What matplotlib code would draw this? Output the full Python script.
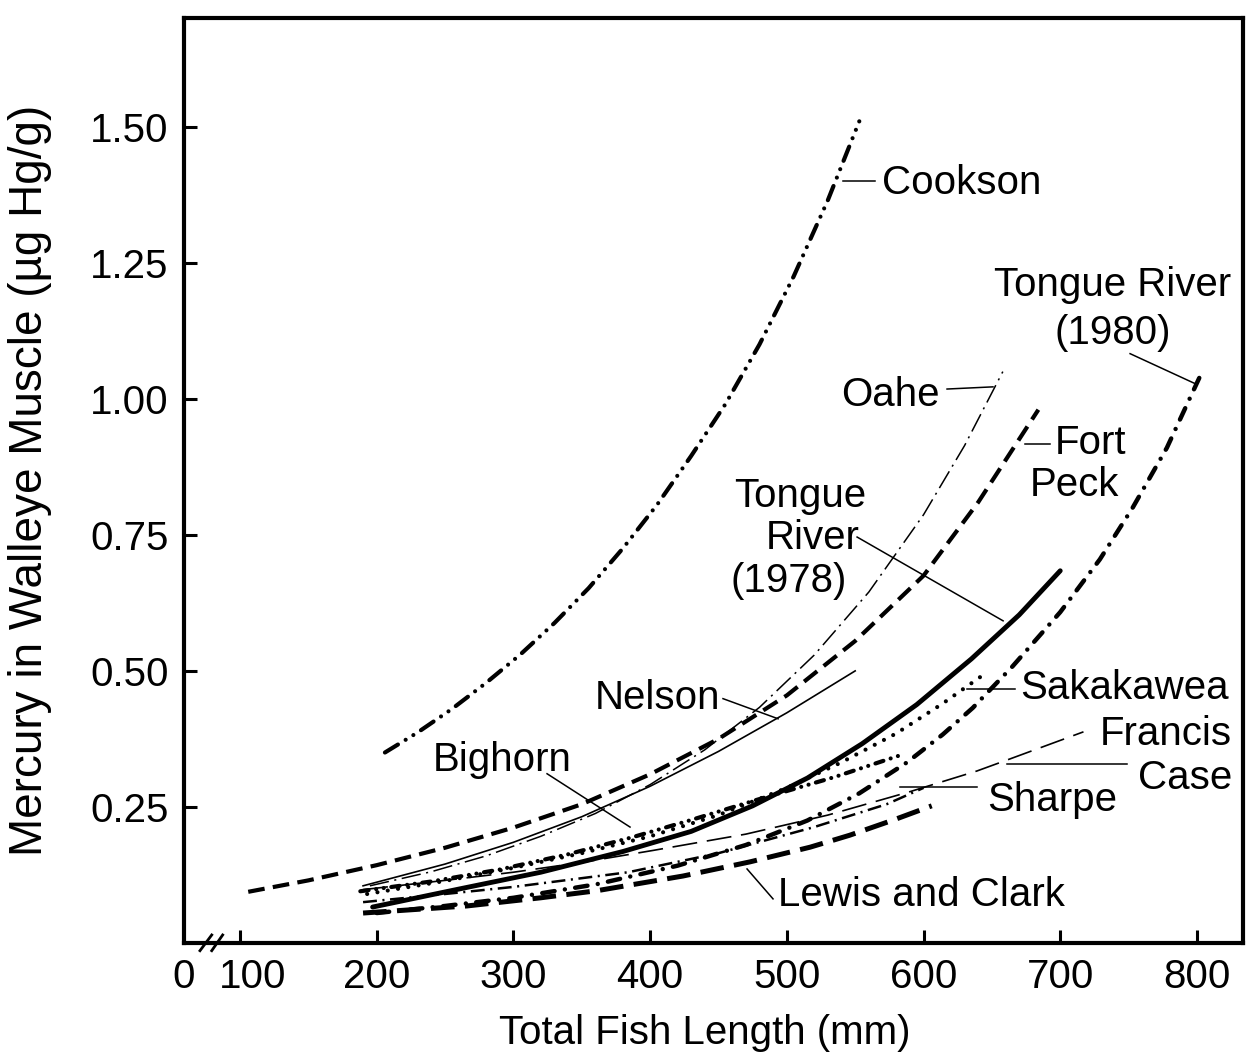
import matplotlib
matplotlib.use('Agg')
import matplotlib.pyplot as plt

plt.rcParams['font.family'] = ['Liberation Sans', 'DejaVu Sans']
plt.rcParams['lines.scale_dashes'] = False

# --- data: total length (mm), mercury (ug Hg/g) ---
cookson_x = [206, 230, 255, 280, 305, 330, 355, 380, 405, 430, 455, 480, 505, 530, 553]
cookson_y = [0.35, 0.387, 0.43, 0.478, 0.53, 0.588, 0.652, 0.725, 0.805, 0.895, 0.99,
             1.10, 1.225, 1.365, 1.51]

oahe_x = [195, 240, 280, 320, 360, 400, 440, 480, 520, 560, 600, 630, 658]
oahe_y = [0.105, 0.131, 0.16, 0.196, 0.238, 0.291, 0.355, 0.433, 0.529, 0.645, 0.787,
          0.914, 1.05]

fortpeck_x = [106, 150, 200, 250, 300, 350, 400, 450, 500, 550, 600, 640, 684]
fortpeck_y = [0.094, 0.115, 0.143, 0.175, 0.212, 0.255, 0.31, 0.375, 0.455, 0.555, 0.675,
              0.81, 0.98]

tongue78_x = [197, 260, 320, 380, 430, 475, 515, 555, 595, 635, 670, 700]
tongue78_y = [0.066, 0.099, 0.13, 0.168, 0.205, 0.252, 0.303, 0.366, 0.438, 0.522, 0.603,
              0.684]

tongue80_x = [200, 250, 300, 361, 420, 470, 515, 553, 588, 614, 636, 665, 700, 729, 753,
              778, 802]
tongue80_y = [0.055, 0.068, 0.083, 0.108, 0.142, 0.18, 0.225, 0.275, 0.332, 0.383, 0.432,
              0.508, 0.608, 0.705, 0.80, 0.91, 1.04]

sakakawea_x = [193, 250, 300, 350, 400, 450, 500, 540, 580, 614, 645]
sakakawea_y = [0.09, 0.114, 0.138, 0.165, 0.196, 0.235, 0.285, 0.332, 0.385, 0.44, 0.495]

nelson_x = [190, 250, 300, 350, 400, 450, 500, 550]
nelson_y = [0.105, 0.145, 0.185, 0.232, 0.288, 0.352, 0.423, 0.50]

bighorn_x = [188, 240, 290, 340, 388, 430, 478, 535, 583]
bighorn_y = [0.095, 0.113, 0.135, 0.163, 0.195, 0.226, 0.263, 0.305, 0.345]

francis_x = [190, 250, 300, 350, 402, 470, 530, 590, 639, 663, 717]
francis_y = [0.098, 0.115, 0.13, 0.148, 0.17, 0.20, 0.235, 0.278, 0.316, 0.338, 0.388]

sharpe_x = [190, 250, 300, 384, 450, 520, 573, 600]
sharpe_y = [0.075, 0.09, 0.103, 0.13, 0.165, 0.213, 0.255, 0.285]

lewis_x = [190, 266, 320, 361, 424, 473, 517, 546, 578, 606]
lewis_y = [0.055, 0.068, 0.083, 0.096, 0.123, 0.149, 0.176, 0.198, 0.226, 0.252]

x_ticks = [100, 200, 300, 400, 500, 600, 700, 800]
y_ticks = [0.25, 0.50, 0.75, 1.00, 1.25, 1.50]
XMIN, XMAX = 59.0, 833.7
YMIN, YMAX = 0.0, 1.70

FS = 29

fig = plt.figure(figsize=(12.49, 10.55), dpi=100)
ax = fig.add_axes([0.1473, 0.1062, 0.8479, 0.8768])

# curves
ax.plot(cookson_x, cookson_y, color='k', lw=3, dash_capstyle='round',
        linestyle=(0, (11, 6.5, 0.01, 6.5, 0.01, 6.5)))
ax.plot(oahe_x, oahe_y, color='k', lw=1.1, linestyle=(0, (14, 4, 1.5, 4)))
ax.plot(fortpeck_x, fortpeck_y, color='k', lw=3, linestyle=(0, (12, 6)))
ax.plot(tongue78_x, tongue78_y, color='k', lw=3.5, solid_capstyle='round')
ax.plot(tongue80_x, tongue80_y, color='k', lw=3.2, dash_capstyle='round',
        linestyle=(0, (9, 7.5, 0.01, 7.5)))
ax.plot(sakakawea_x, sakakawea_y, color='k', lw=3, dash_capstyle='round',
        linestyle=(0, (0.01, 7.5)))
ax.plot(nelson_x, nelson_y, color='k', lw=1.2)
ax.plot(bighorn_x, bighorn_y, color='k', lw=3, dash_capstyle='round',
        linestyle=(0, (6, 5.5, 0.01, 5.5, 0.01, 5.5)))
ax.plot(francis_x, francis_y, color='k', lw=1.2, linestyle=(0, (18, 7)))
ax.plot(sharpe_x, sharpe_y, color='k', lw=1.8, linestyle=(0, (10, 4, 1.5, 4)))
ax.plot(lewis_x, lewis_y, color='k', lw=3.6, linestyle=(0, (17, 7.5)))

# labels with leader lines
def leader(x0, y0, x1, y1):
    ax.plot([x0, x1], [y0, y1], color='k', lw=1.1)

ax.text(569.6, 1.377, 'Cookson', fontsize=FS, ha='left', va='baseline')
leader(541.1, 1.401, 564.5, 1.401)

ax.text(738.6, 1.189, 'Tongue River', fontsize=FS, ha='center', va='baseline')
ax.text(738.6, 1.101, '(1980)', fontsize=FS, ha='center', va='baseline')
leader(751.1, 1.083, 798.6, 1.028)

ax.text(612.1, 0.987, 'Oahe', fontsize=FS, ha='right', va='baseline')
leader(617.2, 1.018, 650.8, 1.022)

ax.text(696.2, 0.899, 'Fort', fontsize=FS, ha='left', va='baseline')
ax.text(677.9, 0.822, 'Peck', fontsize=FS, ha='left', va='baseline')
leader(674.3, 0.917, 692.5, 0.917)

ax.text(509.7, 0.801, 'Tongue', fontsize=FS, ha='center', va='baseline')
ax.text(519.2, 0.724, 'River', fontsize=FS, ha='center', va='baseline')
ax.text(501.4, 0.645, '(1978)', fontsize=FS, ha='center', va='baseline')
leader(551.4, 0.746, 658.2, 0.592)

ax.text(451.1, 0.430, 'Nelson', fontsize=FS, ha='right', va='baseline')
leader(453.3, 0.449, 493.6, 0.412)

ax.text(241.2, 0.316, 'Bighorn', fontsize=FS, ha='left', va='baseline')
leader(324.6, 0.311, 385.3, 0.213)

ax.text(670.6, 0.449, 'Sakakawea', fontsize=FS, ha='left', va='baseline')
leader(631.8, 0.467, 666.9, 0.467)

ax.text(825.7, 0.364, 'Francis', fontsize=FS, ha='right', va='baseline')
ax.text(825.7, 0.283, 'Case', fontsize=FS, ha='right', va='baseline')
leader(661.1, 0.329, 748.9, 0.329)

ax.text(646.4, 0.243, 'Sharpe', fontsize=FS, ha='left', va='baseline')
leader(582.8, 0.287, 639.1, 0.287)

ax.text(493.6, 0.068, 'Lewis and Clark', fontsize=FS, ha='left', va='baseline')
leader(470.9, 0.136, 489.9, 0.081)

# axes
ax.set_xlim(XMIN, XMAX)
ax.set_ylim(YMIN, YMAX)
for s in ax.spines.values():
    s.set_linewidth(3)
ax.set_yticks(y_ticks)
ax.set_yticklabels([f'{v:.2f}' for v in y_ticks])
ax.set_xticks(x_ticks)
ax.set_xticklabels([''] + [str(v) for v in x_ticks[1:]])
ax.tick_params(direction='in', length=9.5, width=2.2, labelsize=FS, pad=11,
               top=False, right=False)

# "0" at the axis origin and shifted "100" beside the break
ax.annotate('0', xy=(XMIN, 0), xycoords=('data', 'axes fraction'), xytext=(0, -11),
            textcoords='offset points', ha='center', va='top', fontsize=FS)
ax.annotate('100', xy=(100, 0), xycoords=('data', 'axes fraction'), xytext=(9.4, -11),
            textcoords='offset points', ha='center', va='top', fontsize=FS)

# axis break marks
ax.plot([70.7, 79.3], [-0.0142, 0.0147], color='k', lw=2, clip_on=False)
ax.plot([79.3, 87.3], [-0.0142, 0.0147], color='k', lw=2, clip_on=False)

fig.text(30 / 1249, 1 - 480 / 1055, 'Mercury in Walleye Muscle (µg Hg/g)', rotation=90,
         ha='center', va='center', fontsize=33)
fig.text(705 / 1249, 1 - 1033 / 1055, 'Total Fish Length (mm)', ha='center', va='center',
         fontsize=FS)

fig.savefig('out.png', dpi=100)
